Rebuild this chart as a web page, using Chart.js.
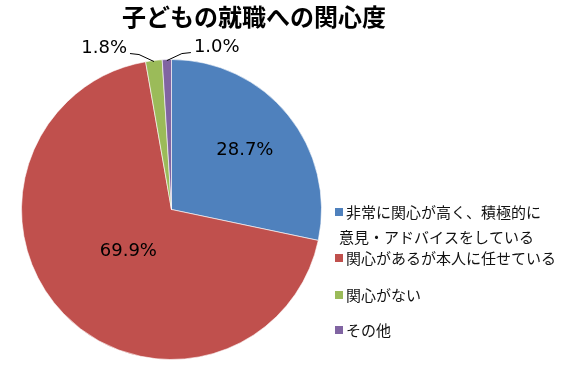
<!DOCTYPE html>
<html lang="ja">
<head>
<meta charset="UTF-8">
<title>子どもの就職への関心度</title>
<script src="https://cdn.jsdelivr.net/npm/chart.js"></script>
<style>
  html, body { margin: 0; padding: 0; background: #fff; }
  #wrap { width: 564px; height: 365px; }
</style>
</head>
<body>
<div id="wrap"><canvas id="pie" width="564" height="365"></canvas></div>
<script>
const chartTitle = '子どもの就職への関心度';
const categories = [
  ['非常に関心が高く、積極的に', '意見・アドバイスをしている'],
  ['関心があるが本人に任せている'],
  ['関心がない'],
  ['その他']
];
const shares = [28.7, 69.9, 1.8, 1.0];
const valueLabels = ['28.7%', '69.9%', '1.8%', '1.0%'];
const colors = ['#4F81BD', '#C0504D', '#9BBB59', '#8064A2'];

const numFont = '18px "DejaVu Sans", Verdana, sans-serif';
const jpFont = '"Noto Sans CJK JP", "Noto Sans", sans-serif';

// title, slice labels (with leader lines for the small ones) and the legend
const decorations = {
  id: 'decorations',
  afterDraw(chart) {
    const ctx = chart.ctx;
    ctx.save();

    ctx.fillStyle = '#000';
    ctx.font = 'bold 24px ' + jpFont;
    ctx.textAlign = 'center';
    ctx.textBaseline = 'middle';
    ctx.fillText(chartTitle, 254, 17);

    const arcs = chart.getDatasetMeta(0).data;
    const inside = [0.63, 0.40];
    ctx.font = numFont;
    arcs.forEach((arc, i) => {
      const p = arc.getProps(['x', 'y', 'startAngle', 'endAngle', 'outerRadius'], true);
      const mid = (p.startAngle + p.endAngle) / 2;
      if (i < 2) {
        const r = p.outerRadius * inside[i];
        ctx.textAlign = 'center';
        ctx.fillText(valueLabels[i], p.x + Math.cos(mid) * r, p.y + Math.sin(mid) * r);
      } else {
        const side = i === 2 ? -1 : 1;
        const sx = p.x + Math.cos(mid) * (p.outerRadius - 1);
        const sy = p.y + Math.sin(mid) * (p.outerRadius - 1);
        const ex = sx + side * 15, ey = sy - 7;
        const hx = ex + side * 9;
        ctx.strokeStyle = '#000';
        ctx.lineWidth = 1;
        ctx.beginPath();
        ctx.moveTo(sx, sy);
        ctx.lineTo(ex, ey);
        ctx.lineTo(hx, ey - 1);
        ctx.stroke();
        ctx.textAlign = side < 0 ? 'right' : 'left';
        ctx.fillText(valueLabels[i], hx + side * 3, ey - 6);
      }
    });

    // legend
    const rowY = [[212, 237], [258], [295], [330]];
    ctx.font = '15px ' + jpFont;
    ctx.textAlign = 'left';
    categories.forEach((lines, i) => {
      ctx.fillStyle = colors[i];
      ctx.fillRect(335, rowY[i][0] - 4, 8, 8);
      ctx.fillStyle = '#111';
      lines.forEach((t, j) => {
        ctx.fillText(t, j === 0 ? 346 : 339, rowY[i][j]);
      });
    });
    ctx.restore();
  }
};

new Chart(document.getElementById('pie'), {
  type: 'pie',
  data: {
    labels: categories,
    datasets: [{
      data: shares,
      backgroundColor: colors,
      borderColor: 'rgba(255,255,255,0.6)',
      borderWidth: 1
    }]
  },
  options: {
    responsive: false,
    animation: false,
    layout: { padding: { left: 21, right: 242, top: 59, bottom: 5 } },
    plugins: {
      legend: { display: false },
      title: { display: false },
      tooltip: { enabled: false }
    }
  },
  plugins: [decorations]
});
</script>
</body>
</html>
